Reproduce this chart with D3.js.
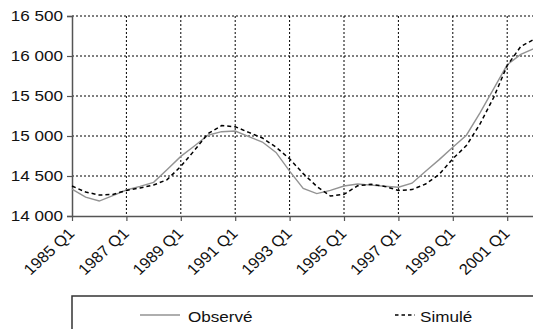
<!DOCTYPE html>
<html lang="fr">
<head>
    <meta charset="UTF-8">
    <title>Observé vs Simulé</title>
    <script src="https://cdn.jsdelivr.net/npm/d3@7"></script>
    <style>
        body { margin: 0; background: #fff; }
        svg { display: block; }
    </style>
</head>
<body>
<script>
    // semestres : 1985 Q1, 1985 Q3, ... 2002 Q1
    const periods = d3.range(1985, 2002.5, 0.5).map(y => `${Math.floor(y)} Q${y % 1 ? 3 : 1}`);
    const observed = [14337, 14235, 14187, 14255, 14325, 14370, 14421, 14580, 14745, 14875,
        15010, 15054, 15062, 14992, 14925, 14795, 14560, 14346, 14280, 14320,
        14375, 14400, 14386, 14372, 14360, 14410, 14560, 14705, 14860, 15010,
        15290, 15590, 15890, 16020, 16095];
    const simulated = [14375, 14300, 14262, 14269, 14320, 14350, 14387, 14455, 14620, 14820,
        15030, 15130, 15116, 15045, 14975, 14860, 14715, 14530, 14370, 14250,
        14270, 14378, 14396, 14370, 14320, 14330, 14400, 14520, 14715, 14880,
        15150, 15480, 15880, 16120, 16210];
    const tickLabels = ['1985 Q1', '1987 Q1', '1989 Q1', '1991 Q1', '1993 Q1',
        '1995 Q1', '1997 Q1', '1999 Q1', '2001 Q1'];
    const yTicks = [14000, 14500, 15000, 15500, 16000, 16500];

    const width = 533, height = 329;
    const mLeft = 72, mTop = 16, mBottom = 216, mRight = 534.4;
    const fs = 14.5, sx = 1.18; // police un peu large comme l'original

    const fmt = d => d3.format(',')(d).replace(',', ' ');

    const x = d3.scalePoint().domain(periods).range([mLeft, mRight]);
    const y = d3.scaleLinear().domain([14000, 16500]).range([mBottom, mTop]);

    const svg = d3.select('body').append('svg')
        .attr('width', width)
        .attr('height', height)
        .style('font-family', '"Liberation Sans", Arial, sans-serif');

    // grille
    svg.append('g').selectAll('line')
        .data(yTicks.slice(1))
        .enter().append('line')
        .attr('x1', mLeft).attr('x2', width)
        .attr('y1', d => y(d)).attr('y2', d => y(d))
        .attr('stroke', '#000').attr('stroke-width', 1)
        .attr('stroke-dasharray', '2,2');

    svg.append('g').selectAll('line')
        .data(tickLabels.slice(1))
        .enter().append('line')
        .attr('x1', d => x(d)).attr('x2', d => x(d))
        .attr('y1', mTop).attr('y2', mBottom)
        .attr('stroke', '#000').attr('stroke-width', 1)
        .attr('stroke-dasharray', '2,2');

    // axes
    const yAxis = svg.append('g')
        .attr('transform', `translate(${mLeft},0)`)
        .call(d3.axisLeft(y).tickValues(yTicks).tickFormat(fmt).tickSize(5).tickPadding(4));
    yAxis.select('.domain').attr('stroke', '#555').attr('stroke-width', 1.5);
    yAxis.selectAll('.tick line').attr('stroke', '#555').attr('stroke-width', 1.2);
    yAxis.selectAll('text')
        .attr('font-size', fs).attr('fill', '#111')
        .attr('x', -9 / sx)
        .attr('transform', `scale(${sx},1)`);

    const xAxis = svg.append('g')
        .attr('transform', `translate(0,${mBottom})`)
        .call(d3.axisBottom(x).tickValues(tickLabels).tickSize(5).tickSizeOuter(0));
    xAxis.select('.domain').attr('stroke', '#555').attr('stroke-width', 1.5);
    xAxis.selectAll('.tick line').attr('stroke', '#555').attr('stroke-width', 1.2);
    xAxis.selectAll('text')
        .attr('font-size', 15.2).attr('fill', '#111')
        .attr('text-anchor', 'end')
        .attr('dy', null)
        .attr('y', 0)
        .attr('transform', 'translate(3,18.5) scale(1.09,1) rotate(-45)');

    // séries
    const line = d3.line().x((d, i) => x(periods[i])).y(d => y(d));

    svg.append('path')
        .datum(observed)
        .attr('d', line)
        .attr('fill', 'none')
        .attr('stroke', '#939393')
        .attr('stroke-width', 1.4);

    svg.append('path')
        .datum(simulated)
        .attr('d', line)
        .attr('fill', 'none')
        .attr('stroke', '#000')
        .attr('stroke-width', 1.5)
        .attr('stroke-dasharray', '4,3');

    // légende
    const legend = svg.append('g');
    legend.append('rect')
        .attr('x', 72).attr('y', 296)
        .attr('width', 500).attr('height', 60)
        .attr('fill', 'none').attr('stroke', '#333').attr('stroke-width', 1.5);

    legend.append('line')
        .attr('x1', 140).attr('x2', 180).attr('y1', 315).attr('y2', 315)
        .attr('stroke', '#939393').attr('stroke-width', 1.4);
    legend.append('text')
        .attr('transform', `translate(188,322) scale(${sx},1)`)
        .attr('font-size', fs).attr('fill', '#111')
        .text('Observé');

    legend.append('line')
        .attr('x1', 395).attr('x2', 415).attr('y1', 315).attr('y2', 315)
        .attr('stroke', '#000').attr('stroke-width', 1.5)
        .attr('stroke-dasharray', '3.5,3');
    legend.append('text')
        .attr('transform', `translate(420,322) scale(${sx},1)`)
        .attr('font-size', fs).attr('fill', '#111')
        .text('Simulé');
</script>
</body>
</html>
